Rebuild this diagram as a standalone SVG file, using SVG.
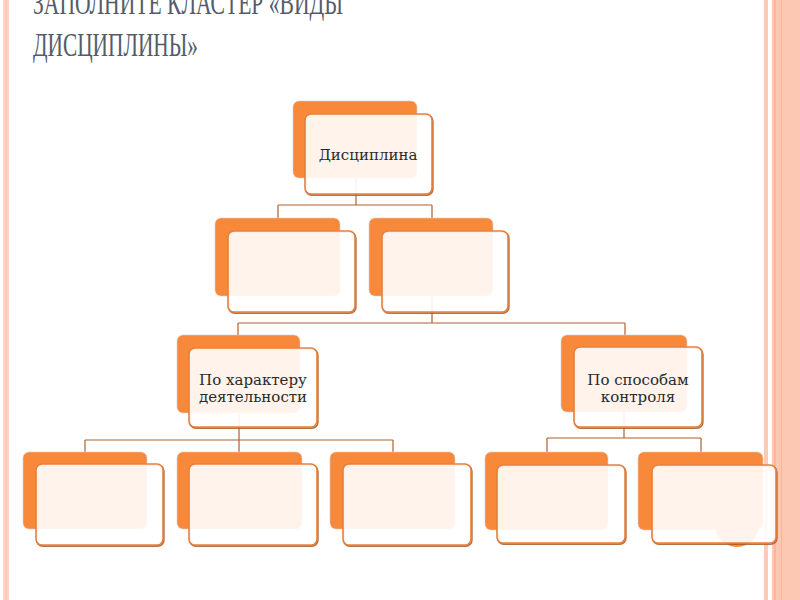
<svg xmlns="http://www.w3.org/2000/svg" width="800" height="600" viewBox="0 0 800 600">
<style>
.back{fill:#f8883a;stroke:#d8d0cc;stroke-width:0.6}
.shadow{fill:none;stroke:#a85a28;stroke-width:1.8;opacity:0.85}
.front{fill:#ffffff;fill-opacity:0.9;stroke:#e8803c;stroke-width:1.6}
.conn{fill:none;stroke:#b0602e;stroke-width:1.2}
.lbl{font-family:"DejaVu Serif","Liberation Serif",serif;font-size:15px;fill:#2a2a2a;text-anchor:middle}
.title{font-family:"Liberation Serif","Times New Roman",serif;font-size:34px;fill:#545c6a}
</style>
<rect x="0" y="0" width="800" height="600" fill="#ffffff"/>
<!-- borders -->
<rect x="3" y="0" width="6" height="600" fill="#fdd4c5"/>
<rect x="5.5" y="0" width="1" height="600" fill="#fbbfa8"/>
<rect x="764" y="0" width="4" height="600" fill="#fccbb8"/>
<rect x="772" y="0" width="28" height="600" fill="#fdc8b3"/>
<rect x="774.5" y="0" width="1" height="600" fill="#f7a47c"/>
<rect x="781" y="0" width="1" height="600" fill="#fab496"/>
<!-- title -->
<text class="title" x="33" y="14" textLength="310" lengthAdjust="spacingAndGlyphs">ЗАПОЛНИТЕ КЛАСТЕР «ВИДЫ</text>
<text class="title" x="33" y="56" textLength="165" lengthAdjust="spacingAndGlyphs">ДИСЦИПЛИНЫ»</text>
<g id="connectors">
<path class="conn" d="M356 178V205M278 205H432M278 205V218M432 205V218"/>
<path class="conn" d="M432 296V323M238 323H625M238 323V335M625 323V335"/>
<path class="conn" d="M239 413V440M85 440H393M85 440V452M239 440V452M393 440V452"/>
<path class="conn" d="M624 412V438M547 438H701M547 438V452M701 438V452"/>
</g>
<g id="n0">
<rect class="back" x="293" y="101" width="124" height="77" rx="6"/>
<rect class="shadow" x="305.8" y="115.2" width="127" height="80" rx="6"/>
<rect class="front" x="305" y="114" width="127" height="80" rx="6"/>
<text class="lbl" x="368" y="160">Дисциплина</text>
</g>
<g id="n1">
<rect class="back" x="215" y="218" width="125" height="78" rx="6"/>
<rect class="shadow" x="228.8" y="232.2" width="127" height="81" rx="6"/>
<rect class="front" x="228" y="231" width="127" height="81" rx="6"/>
</g>
<g id="n2">
<rect class="back" x="369" y="218" width="124" height="78" rx="6"/>
<rect class="shadow" x="382.8" y="232.2" width="126" height="81" rx="6"/>
<rect class="front" x="382" y="231" width="126" height="81" rx="6"/>
</g>
<g id="n3">
<rect class="back" x="177" y="335" width="123" height="78" rx="6"/>
<rect class="shadow" x="189.8" y="349.2" width="128" height="79" rx="6"/>
<rect class="front" x="189" y="348" width="128" height="79" rx="6"/>
<text class="lbl" x="253" y="385">По характеру</text>
<text class="lbl" x="253" y="402">деятельности</text>
</g>
<g id="n4">
<rect class="back" x="561" y="335" width="126" height="77" rx="6"/>
<rect class="shadow" x="574.8" y="348.2" width="128" height="80" rx="6"/>
<rect class="front" x="574" y="347" width="128" height="80" rx="6"/>
<text class="lbl" x="638" y="385">По способам</text>
<text class="lbl" x="638" y="402">контроля</text>
</g>
<g id="n5">
<rect class="back" x="23" y="452" width="124" height="77" rx="6"/>
<rect class="shadow" x="36.8" y="465.2" width="127" height="81" rx="6"/>
<rect class="front" x="36" y="464" width="127" height="81" rx="6"/>
</g>
<g id="n6">
<rect class="back" x="177" y="452" width="125" height="77" rx="6"/>
<rect class="shadow" x="189.8" y="465.2" width="128" height="81" rx="6"/>
<rect class="front" x="189" y="464" width="128" height="81" rx="6"/>
</g>
<g id="n7">
<rect class="back" x="330" y="452" width="125" height="77" rx="6"/>
<rect class="shadow" x="343.8" y="465.2" width="128" height="81" rx="6"/>
<rect class="front" x="343" y="464" width="128" height="81" rx="6"/>
</g>
<g id="n8">
<rect class="back" x="485" y="452" width="123" height="78" rx="6"/>
<rect class="shadow" x="497.8" y="466.2" width="128" height="78" rx="6"/>
<rect class="front" x="497" y="465" width="128" height="78" rx="6"/>
</g>
<g id="n9">
<rect class="back" x="638" y="452" width="125" height="78" rx="6"/>
<circle cx="737" cy="525" r="22" fill="#f8883a"/>
<rect class="shadow" x="652.8" y="466.2" width="124" height="78" rx="6"/>
<rect class="front" x="652" y="465" width="124" height="78" rx="6"/>
</g>
</svg>
